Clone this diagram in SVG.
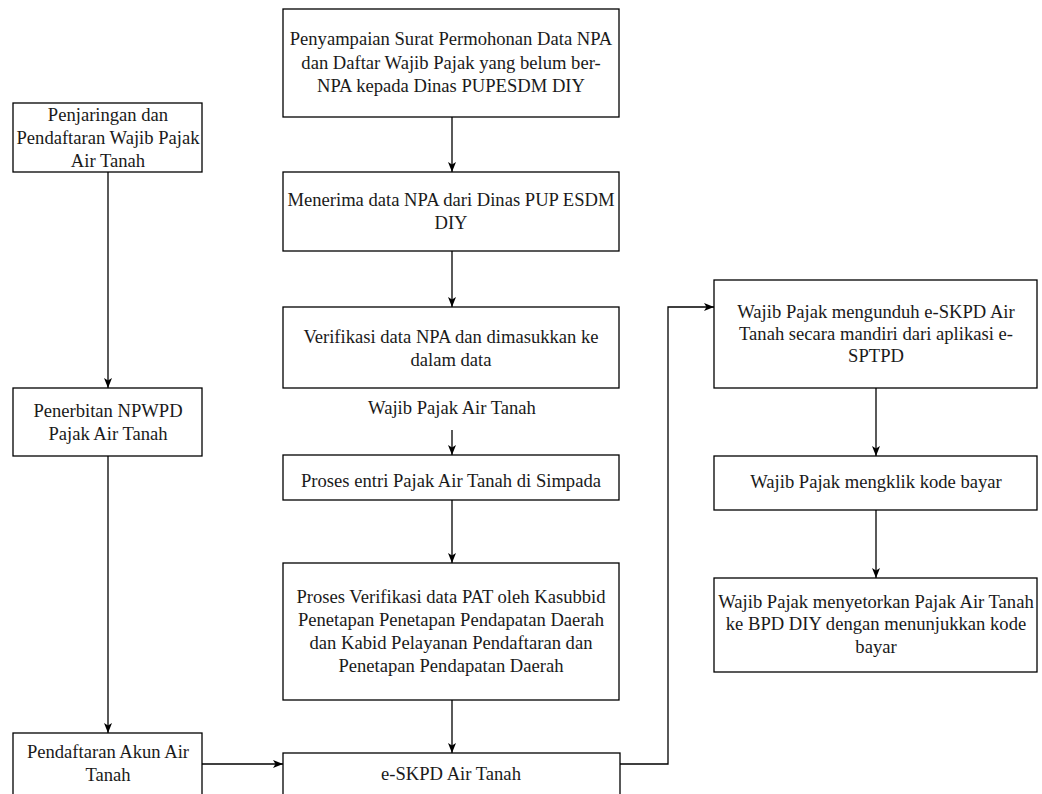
<svg xmlns="http://www.w3.org/2000/svg" width="1042" height="794" viewBox="0 0 1042 794">
<style>
.box{fill:#fff;stroke:#000;stroke-width:1.3}
.t{font-family:"Liberation Serif","Times New Roman",serif;font-size:18.6px;fill:#1a1a1a;text-anchor:middle}
.c{fill:none;stroke:#000;stroke-width:1.3}
</style>
<defs>
<marker id="arr" viewBox="0 0 10 10" refX="10" refY="5" markerWidth="10" markerHeight="10" markerUnits="userSpaceOnUse" orient="auto">
<path d="M0,1 L10,5 L0,9 L2.5,5 Z" fill="#000"/>
</marker>
</defs>
<rect width="1042" height="794" fill="#fff"/>
<g id="connectors">
<path class="c" d="M108,172 V388" marker-end="url(#arr)"/>
<path class="c" d="M108,456 V733" marker-end="url(#arr)"/>
<path class="c" d="M202,764 H283" marker-end="url(#arr)"/>
<path class="c" d="M452,117 V172" marker-end="url(#arr)"/>
<path class="c" d="M452,251 V307" marker-end="url(#arr)"/>
<path class="c" d="M452,430 V455" marker-end="url(#arr)"/>
<path class="c" d="M452,500 V563" marker-end="url(#arr)"/>
<path class="c" d="M452,700 V753" marker-end="url(#arr)"/>
<path class="c" d="M620,764 H668 V307 H714" marker-end="url(#arr)"/>
<path class="c" d="M876,388 V456" marker-end="url(#arr)"/>
<path class="c" d="M876,510 V578" marker-end="url(#arr)"/>
</g>
<g id="n1">
<rect class="box" x="13" y="103" width="189" height="69"/>
<text class="t" x="108" y="121">Penjaringan dan</text>
<text class="t" x="108" y="144">Pendaftaran Wajib Pajak</text>
<text class="t" x="108" y="167">Air Tanah</text>
</g>
<g id="n2">
<rect class="box" x="13" y="388" width="189" height="68"/>
<text class="t" x="108" y="417">Penerbitan NPWPD</text>
<text class="t" x="108" y="440">Pajak Air Tanah</text>
</g>
<g id="n3">
<rect class="box" x="13" y="733" width="189" height="80"/>
<text class="t" x="108" y="758">Pendaftaran Akun Air</text>
<text class="t" x="108" y="781">Tanah</text>
</g>
<g id="nA">
<rect class="box" x="283" y="9" width="336" height="108"/>
<text class="t" x="451" y="45">Penyampaian Surat Permohonan Data NPA</text>
<text class="t" x="451" y="69">dan Daftar Wajib Pajak yang belum ber-</text>
<text class="t" x="451" y="92">NPA kepada Dinas PUPESDM DIY</text>
</g>
<g id="nB">
<rect class="box" x="283" y="172" width="336" height="79"/>
<text class="t" x="451" y="206">Menerima data NPA dari Dinas PUP ESDM</text>
<text class="t" x="451" y="229">DIY</text>
</g>
<g id="nC">
<rect class="box" x="283" y="307" width="336" height="81"/>
<text class="t" x="451" y="343">Verifikasi data NPA dan dimasukkan ke</text>
<text class="t" x="451" y="366">dalam data</text>
</g>
<g id="lblWajib">
<text class="t" x="452" y="414">Wajib Pajak Air Tanah</text>
</g>
<g id="nD">
<rect class="box" x="283" y="455" width="336" height="45"/>
<text class="t" x="451" y="487">Proses entri Pajak Air Tanah di Simpada</text>
</g>
<g id="nE">
<rect class="box" x="283" y="563" width="336" height="137"/>
<text class="t" x="451" y="603">Proses Verifikasi data PAT oleh Kasubbid</text>
<text class="t" x="451" y="626">Penetapan Penetapan Pendapatan Daerah</text>
<text class="t" x="451" y="649">dan Kabid Pelayanan Pendaftaran dan</text>
<text class="t" x="451" y="672">Penetapan Pendapatan Daerah</text>
</g>
<g id="nF">
<rect class="box" x="283" y="753" width="337" height="60"/>
<text class="t" x="451" y="780">e-SKPD Air Tanah</text>
</g>
<g id="nG">
<rect class="box" x="714" y="280" width="323" height="108"/>
<text class="t" x="876" y="318">Wajib Pajak mengunduh e-SKPD Air</text>
<text class="t" x="876" y="340">Tanah secara mandiri dari aplikasi e-</text>
<text class="t" x="876" y="362">SPTPD</text>
</g>
<g id="nH">
<rect class="box" x="714" y="456" width="323" height="54"/>
<text class="t" x="876" y="488">Wajib Pajak mengklik kode bayar</text>
</g>
<g id="nI">
<rect class="box" x="714" y="578" width="323" height="94"/>
<text class="t" x="876" y="608">Wajib Pajak menyetorkan Pajak Air Tanah</text>
<text class="t" x="876" y="630">ke BPD DIY dengan menunjukkan kode</text>
<text class="t" x="876" y="653">bayar</text>
</g>
</svg>
